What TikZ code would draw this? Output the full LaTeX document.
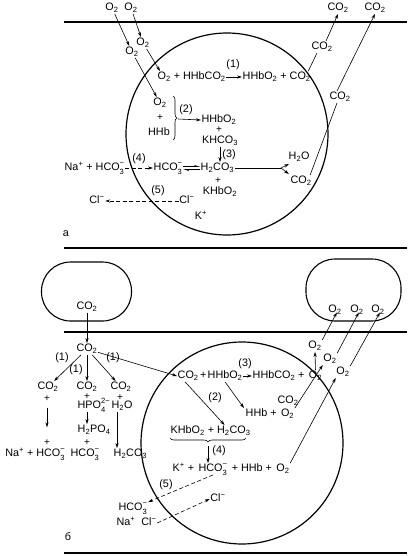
\documentclass[tikz,border=0pt]{standalone}
\usepackage{fontspec}
\setmainfont{Liberation Sans}
\usetikzlibrary{arrows.meta,decorations.pathreplacing}
\newcommand{\sbs}[1]{\textsubscript{#1}}
\newcommand{\sps}[1]{\textsuperscript{#1}}
\newcommand{\sbsp}[2]{\makebox[0pt][l]{\raisebox{-0.3ex}{\textsubscript{#1}}}\raisebox{0.2ex}{\textsuperscript{#2}}}
\begin{document}
\begin{tikzpicture}[x=1pt,y=-1pt,
  every node/.style={font=\fontsize{10.8}{12}\selectfont, inner sep=0.5pt, text height=8pt, text depth=2.5pt},
  arr/.style={-{Stealth[length=5pt,width=3.2pt]}, line width=0.6pt},
  dsh/.style={arr, dash pattern=on 4pt off 2.5pt},
  harp/.style={-{Stealth[harpoon,length=5pt,width=3pt]}, line width=0.6pt},
  thin/.style={line width=0.6pt},
  bold/.style={line width=1.2pt},
  cell/.style={circle, draw, line width=1.2pt, minimum size=202pt, inner sep=0pt, text height=, text depth=},
  capsule/.style={draw, rounded corners=29pt, line width=1.1pt, text height=, text depth=},
  brc/.style={decorate, decoration={brace, amplitude=4pt}, line width=0.6pt},
  plus/.style={font=\fontsize{10}{10}\selectfont, text height=6pt, text depth=0pt}]
\useasboundingbox (0,0) rectangle (409,556);
% ---------------- part a ----------------
\coordinate (la1) at (64,22); \coordinate (la2) at (407,22);
\draw[bold] (la1) -- (la2);
\coordinate (lb1) at (64,248); \coordinate (lb2) at (407,248);
\draw[bold] (lb1) -- (lb2);
\node[cell] (cellA) at (227,134) {};
\node (o1) at (112,8) {O\sbs{2}};
\node (o2) at (131,8) {O\sbs{2}};
\node (o3) at (143,43) {O\sbs{2}};
\node (o4) at (132,52) {O\sbs{2}};
\node[anchor=west] (r1a) at (157,77) {O\sbs{2} + HHbCO\sbs{2}};
\node[anchor=west] (r1b) at (242,77) {HHbO\sbs{2} + CO\sbs{2}};
\draw[arr] (r1a.east) -- (r1b.west);
\node (l1) at (233,65) {(1)};
\draw[arr] (o1) -- (o4);
\draw[arr] (o2) -- (o3);
\node (s1) at (160,103) {O\sbs{2}};
\node[plus] (s2) at (160,118) {+};
\node (s3) at (159,133) {HHb};
\draw[arr] (o3) -- ([xshift=3pt]r1a.north west);
\draw[arr] (o4) -- (s1);
\coordinate (bA1) at (173,96); \coordinate (bA2) at (173,140);
\draw[brc] (bA1) -- (bA2);
\coordinate (bAtip) at (178,119);
\node (p1) at (219,120) {HHbO\sbs{2}};
\draw[arr] (bAtip) -- (p1.west);
\node (l2) at (186,110) {(2)};
\node[plus] (p2) at (219,130) {+};
\node (p3) at (220,141) {KHCO\sbs{3}};
\node[anchor=west] (h2co3) at (200,168) {H\sbs{2}CO\sbs{3}};
\draw[arr] (p3.south) -- (p3.south |- h2co3.north);
\node (l3) at (229,155) {(3)};
\node[anchor=west] (na) at (64,168) {Na\sps{+} + HCO\sbsp{3}{−}};
\node[anchor=west] (hco3a) at (153,168) {HCO\sbsp{3}{−}};
\draw[dsh] (na.east) -- (hco3a.west);
\node (l4) at (139,159) {(4)};
\draw[harp] ([yshift=1.5pt]hco3a.east) -- ([yshift=1.5pt]h2co3.west);
\draw[harp] ([yshift=-1.5pt]h2co3.west) -- ([yshift=-1.5pt]hco3a.east);
\node[anchor=west] (h2oa) at (288,157) {H\sbs{2}O};
\node (co2i) at (301,181) {CO\sbs{2}};
\coordinate (fork) at (281,168);
\draw[thin] (h2co3.east) -- (fork);
\draw[arr] (fork) -- ([shift={(1pt,-1pt)}]h2oa.south west);
\draw[arr] (fork) -- ([shift={(-1pt,1pt)}]co2i.north west);
\node[plus] (pa) at (218,180) {+};
\node (kb) at (220,192) {KHbO\sbs{2}};
\node (kp) at (201,217) {K\sps{+}};
\node (cl1) at (187,201) {Cl\sps{−}};
\node (cl2) at (97,201) {Cl\sps{−}};
\draw[dsh] (cl1) -- (cl2);
\node (l5) at (158,191) {(5)};
\node (cA1) at (340,97) {CO\sbs{2}};
\node (cA2) at (375,8) {CO\sbs{2}};
\draw[thin] ([xshift=-2pt]co2i.north east) -- ([xshift=-3pt]cA1.south);
\draw[arr] ([xshift=-3pt]cA1.north) -- (cA2.south);
\node (cB1) at (322,47) {CO\sbs{2}};
\node (cB2) at (338,8) {CO\sbs{2}};
\draw[thin] ([xshift=-3pt]r1b.north east) -- ([xshift=-5pt]cB1.south);
\draw[arr] ([xshift=4pt]cB1.north) -- (cB2.south);
\node (la) at (66,234) {a};
% ---------------- part b ----------------
\node[capsule, minimum width=90pt, minimum height=59pt] (capL) at (86.5,291.5) {};
\node[capsule, minimum width=95pt, minimum height=62pt] (capR) at (353.5,290) {};
\coordinate (lc1) at (64,332); \coordinate (lc2) at (407,332);
\draw[bold] (lc1) -- (lc2);
\coordinate (ld1) at (64,553); \coordinate (ld2) at (407,553);
\draw[bold] (ld1) -- (ld2);
\node[cell] (cellB) at (242,443) {};
\node (cL) at (87,307) {CO\sbs{2}};
\node (oc1) at (335,310) {O\sbs{2}};
\node (oc2) at (357,310) {O\sbs{2}};
\node (oc3) at (378,310) {O\sbs{2}};
\node (cb) at (87,349) {CO\sbs{2}};
\draw[arr] (cL) -- (cb);
\node (c1) at (48,387) {CO\sbs{2}};
\node (c2) at (87,387) {CO\sbs{2}};
\node (c3) at (121,387) {CO\sbs{2}};
\draw[arr] (cb) -- (c1);
\draw[arr] (cb) -- (c2);
\draw[arr] (cb) -- (c3);
\node (m1) at (62,358) {(1)};
\node (m2) at (76,370) {(1)};
\node (m3) at (113,358) {(1)};
% column 1
\node[plus] (c1p) at (47,398) {+};
\node[plus] (c1q) at (47,442) {+};
\draw[arr, shorten <=6pt, shorten >=11pt] (c1p) -- (c1q);
\node[anchor=east] (nab) at (66,454) {Na\sps{+} + HCO\sbsp{3}{−}};
% column 2
\node[plus] (c2p) at (87,396) {+};
\node[anchor=west] (hpo) at (77,406) {HPO\sbsp{4}{2−}};
\node[anchor=west] (h2po) at (77,430) {H\sbs{2}PO\sbs{4}};
\draw[arr] (hpo.south -| c2p) -- (h2po.north -| c2p);
\node[plus] (c2q) at (87,442) {+};
\node[anchor=west] (hc2) at (70,454) {HCO\sbsp{3}{−}};
% column 3
\node[plus] (c3p) at (120,397) {+};
\node (h2oc) at (122,406) {H\sbs{2}O};
\node[anchor=west] (h2co3b) at (113,454) {H\sbs{2}CO\sbs{3}};
\draw[arr] ([xshift=-5pt]h2oc.south) -- ([xshift=-5pt]h2oc.south |- h2co3b.north);
% reaction 3
\node[anchor=west] (r3a) at (177,376) {CO\sbs{2}};
\node[anchor=base west] (r3p) at (r3a.base east) {+};
\node[anchor=base west] (r3b) at (r3p.base east) {HHbO\sbs{2}};
\node[anchor=west] (r3c) at (252,376) {HHbCO\sbs{2} +};
\node[anchor=base west] (r3d) at ([xshift=3pt]r3c.base east) {O\sbs{2}};
\draw[arr] (r3b.east) -- (r3c.west);
\node (l3b) at (245,364) {(3)};
\draw[arr] (cb) -- (r3a.west);
\node[anchor=west] (kh) at (170,431) {KHbO\sbs{2} + H\sbs{2}CO\sbs{3}};
\draw[arr] ([xshift=-3pt]r3a.south) -- ([xshift=14pt]kh.north);
\node (l2b) at (215,398) {(2)};
\node[anchor=west] (hhb) at (245,414) {HHb +};
\node[anchor=base west] (o2h) at ([xshift=3pt]hhb.base east) {O\sbs{2}};
\draw[arr] (r3b.south) -- ([xshift=-1pt]hhb.north west);
\node (co2b) at (288,401) {CO\sbs{2}};
\coordinate (bB1) at (246,438); \coordinate (bB2) at (170,438);
\draw[brc] (bB1) -- (bB2);
\coordinate (bBtip) at (208,446);
\node[anchor=west] (kr1) at (172,469) {K\sps{+} +};
\node[anchor=base west] (kr2) at ([xshift=3pt]kr1.base east) {HCO\sbsp{3}{−}};
\node[anchor=base west] (kr3) at ([xshift=3pt]kr2.base east) {+ HHb +};
\node[anchor=base west] (kr4) at ([xshift=3pt]kr3.base east) {O\sbs{2}};
\draw[arr] (bBtip) -- (bBtip |- kr2.north);
\node (l4b) at (219,451) {(4)};
\node (hcb) at (133,508) {HCO\sbsp{3}{−}};
\draw[dsh] (kr2.south) -- (hcb.north east);
\node (l5b) at (166,485) {(5)};
\node (nab2) at (126,523) {Na\sps{+}};
\node (clb) at (149,523) {Cl\sps{−}};
\node (clb2) at (218,499) {Cl\sps{−}};
\draw[dsh] (clb.east) -- (clb2.west);
\node (ob1) at (315,346) {O\sbs{2}};
\node (ob2) at (330,359) {O\sbs{2}};
\node (ob3) at (343,372) {O\sbs{2}};
\draw[arr] (r3d.north) -- (ob1.south);
\draw[arr] (o2h.north east) -- (ob2.south west);
\draw[arr] (kr4.north east) -- (ob3.south west);
\draw[arr, shorten >=-4pt] (ob1.north east) -- (oc1.south);
\draw[arr, shorten >=-4pt] (ob2.north east) -- (oc2.south);
\draw[arr, shorten >=-4pt] (ob3.north east) -- (oc3.south);
\node (lb) at (68,538) {б};
\end{tikzpicture}
\end{document}
